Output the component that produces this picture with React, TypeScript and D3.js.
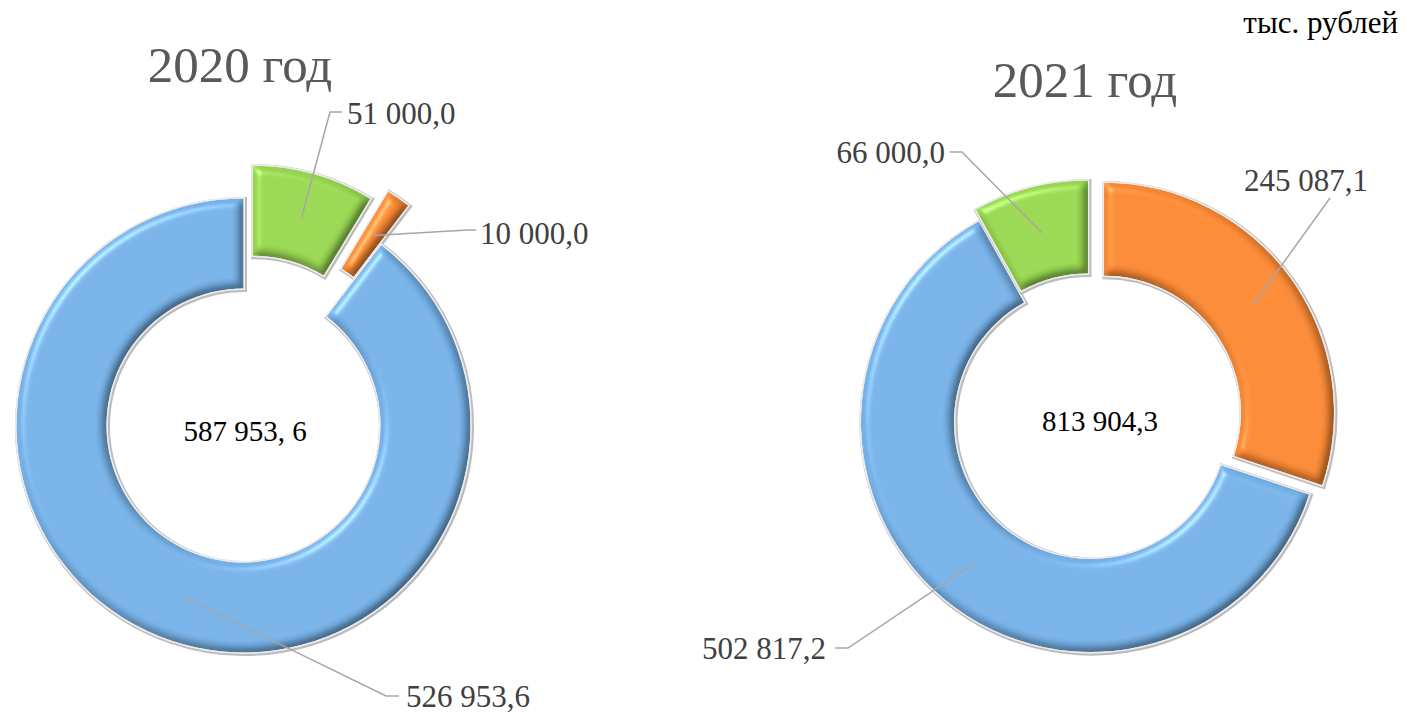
import React from "react";
import * as d3 from "d3";

// ---- data ----
const years = ["2020 год", "2021 год"];
const values2020 = [51000.0, 10000.0, 526953.6];
const colors2020 = ["#94d250", "#f58634", "#74aee3"];
const values2021 = [245087.1, 502817.2, 66000.0];
const colors2021 = ["#f58634", "#74aee3", "#94d250"];
const totalLabels = ["587 953, 6", "813 904,3"];
const unitLabel = "тыс. рублей";

// ---- layout ----
const W = 1407;
const H = 714;

const ru = d3.formatLocale({ decimal: ",", thousands: "\u00a0", grouping: [3], currency: ["", ""] });
const fmt = (v: number) => ru.format(",.1f")(v).replace(/\u00a0/g, " ");

type LabelCfg = { elbow: [number, number]; end: [number, number]; tx: number; ty: number; anchor: string };

const charts = [
  {
    title: years[0],
    titleX: 240,
    titleY: 82,
    values: values2020,
    colors: colors2020,
    cx: 243.5,
    cy: 425.5,
    R: 227,
    r: 137,
    explode: [34, 48, 0],
    total: totalLabels[0],
    totalX: 245,
    totalY: 431,
    labels: [
      { elbow: [330, 112], end: [342, 112], tx: 347, ty: 113, anchor: "start" },
      { elbow: [468, 230], end: [476, 230], tx: 480, ty: 233, anchor: "start" },
      { elbow: [386, 696], end: [399, 696], tx: 406, ty: 696, anchor: "start" },
    ] as LabelCfg[],
  },
  {
    title: years[1],
    titleX: 1085,
    titleY: 97,
    values: values2021,
    colors: colors2021,
    cx: 1091,
    cy: 422,
    R: 230,
    r: 137,
    explode: [16, 0, 12],
    total: totalLabels[1],
    totalX: 1100,
    totalY: 421,
    labels: [
      { elbow: [1330, 198], end: [1330, 198], tx: 1306, ty: 180, anchor: "middle" },
      { elbow: [848, 648], end: [835, 648], tx: 826, ty: 648, anchor: "end" },
      { elbow: [962, 152], end: [950, 152], tx: 945, ty: 152, anchor: "end" },
    ] as LabelCfg[],
  },
];

const FONT = "'Liberation Serif', 'DejaVu Serif', serif";

function Donut({ c }: { c: (typeof charts)[number] }) {
  const pie = d3.pie<number>().sort(null).value((d) => d).startAngle(0).endAngle(2 * Math.PI);
  const arcs = pie(c.values);
  const arc = d3.arc<d3.PieArcDatum<number>>().innerRadius(c.r).outerRadius(c.R);
  return (
    <g>
      {arcs.map((a, i) => {
        const mid = (a.startAngle + a.endAngle) / 2;
        const dx = Math.sin(mid) * c.explode[i];
        const dy = -Math.cos(mid) * c.explode[i];
        const d = arc(a) || "";
        return (
          <g key={"s" + i} transform={`translate(${c.cx + dx},${c.cy + dy})`}>
            <path d={d} fill="none" stroke="#bcbcbc" strokeWidth={5} strokeLinejoin="miter" transform="translate(1,1)" />
            <path d={d} fill="none" stroke="#ececec" strokeWidth={3} strokeLinejoin="miter" />
            <path d={d} fill={c.colors[i]} filter="url(#bevel)" />
          </g>
        );
      })}
      {arcs.map((a, i) => {
        const mid = (a.startAngle + a.endAngle) / 2;
        const dx = Math.sin(mid) * c.explode[i];
        const dy = -Math.cos(mid) * c.explode[i];
        const [px, py] = arc.centroid(a);
        const sx = c.cx + dx + px;
        const sy = c.cy + dy + py;
        const L = c.labels[i];
        return (
          <g key={"l" + i}>
            <polyline
              points={`${sx},${sy} ${L.elbow[0]},${L.elbow[1]} ${L.end[0]},${L.end[1]}`}
              fill="none"
              stroke="#a6a6a6"
              strokeWidth={1.5}
            />
            <text
              x={L.tx}
              y={L.ty}
              textAnchor={L.anchor as any}
              dominantBaseline="central"
              fontFamily={FONT}
              fontSize={31}
              fill="#404040"
            >
              {fmt(c.values[i])}
            </text>
          </g>
        );
      })}
      <text
        x={c.totalX}
        y={c.totalY}
        textAnchor="middle"
        dominantBaseline="central"
        fontFamily={FONT}
        fontSize={29}
        fill="#000"
      >
        {c.total}
      </text>
      <text x={c.titleX} y={c.titleY} textAnchor="middle" fontFamily={FONT} fontSize={51} fill="#595959">
        {c.title}
      </text>
    </g>
  );
}

export default function App() {
  return (
    <svg
      width={W}
      height={H}
      viewBox={`0 0 ${W} ${H}`}
      style={{ position: "absolute", left: 0, top: 0, background: "#fff" }}
    >
      <defs>
        <filter id="bevel" x="-5%" y="-5%" width="110%" height="110%" colorInterpolationFilters="sRGB">
          <feGaussianBlur in="SourceAlpha" stdDeviation="4" result="b" />
          <feDiffuseLighting in="b" surfaceScale="5" diffuseConstant="1.22" lightingColor="#ffffff" result="d">
            <feDistantLight azimuth={225} elevation={55} />
          </feDiffuseLighting>
          <feComposite in="SourceGraphic" in2="d" operator="arithmetic" k1={0.55} k2={0.45} k3={0} k4={0} result="lit" />
          <feSpecularLighting in="b" surfaceScale="5" specularConstant="0.45" specularExponent="30" lightingColor="#ffffff" result="s">
            <feDistantLight azimuth={225} elevation={45} />
          </feSpecularLighting>
          <feComposite in="s" in2="SourceAlpha" operator="in" result="s2" />
          <feComposite in="lit" in2="s2" operator="arithmetic" k1={0} k2={1} k3={0.6} k4={0} result="out" />
          <feComposite in="out" in2="SourceAlpha" operator="in" />
        </filter>
      </defs>
      {charts.map((c, i) => (
        <Donut key={i} c={c} />
      ))}
      <text x={1398} y={33} textAnchor="end" fontFamily={FONT} fontSize={31} fill="#000">
        {unitLabel}
      </text>
    </svg>
  );
}
